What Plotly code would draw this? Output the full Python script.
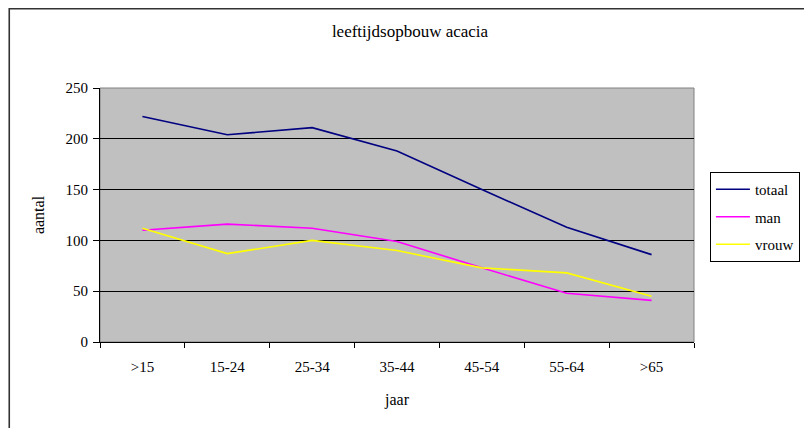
import plotly.graph_objects as go

categories = [">15", "15-24", "25-34", "35-44", "45-54", "55-64", ">65"]
totaal = [222, 204, 211, 188, 150, 113, 86]
man = [110, 116, 112, 99, 73, 48, 41]
vrouw = [112, 87, 100, 90, 73, 68, 45]

FONT = "Liberation Serif"

# figure is placed at (8,8) in the page by the default body margin
W, H = 804, 420
L, T = 92, 80
PW, PH = 597, 254

fig = go.Figure()
fig.add_trace(go.Scatter(x=categories, y=totaal, mode="lines", name="totaal",
                         legendgroup="a",
                         line=dict(color="#000080", width=1.6)))
fig.add_trace(go.Scatter(x=categories, y=man, mode="lines", name="man",
                         legendgroup="b",
                         line=dict(color="#FF00FF", width=1.6)))
fig.add_trace(go.Scatter(x=categories, y=vrouw, mode="lines", name="vrouw",
                         legendgroup="c",
                         line=dict(color="#FFFF00", width=1.6)))

fig.update_layout(
    width=W, height=H,
    margin=dict(l=L, r=W - L - PW, t=T, b=H - T - PH),
    paper_bgcolor="white",
    plot_bgcolor="#C0C0C0",
    font=dict(family=FONT, size=15, color="black"),
    title=dict(text="leeftijdsopbouw acacia", x=0.5, xanchor="center",
               y=1 - 23 / H, yanchor="middle",
               font=dict(family=FONT, size=17, color="black")),
    showlegend=True,
    legend=dict(x=(705 - L) / PW, y=(T + PH - 164) / PH,
                xanchor="left", yanchor="top",
                bordercolor="black", borderwidth=1, bgcolor="white",
                font=dict(family=FONT, size=15), tracegroupgap=5,
                itemwidth=34),
    xaxis=dict(type="category", range=[-0.5, 6.5], showgrid=False,
               showline=True, linecolor="black", linewidth=1,
               ticks="outside", tickson="boundaries", ticklen=5,
               tickcolor="black", ticklabelstandoff=11,
               title=dict(text="jaar", standoff=19,
                          font=dict(family=FONT, size=16)),
               tickfont=dict(family=FONT, size=15), zeroline=False),
    yaxis=dict(range=[0, 250], dtick=50, showgrid=True, gridcolor="black",
               gridwidth=1, showline=True, linecolor="black", linewidth=1,
               ticks="outside", ticklen=6, tickcolor="black",
               ticklabelstandoff=2,
               title=dict(text="aantal", standoff=16,
                          font=dict(family=FONT, size=16)),
               tickfont=dict(family=FONT, size=15), zeroline=False),
)

# plot-area border (gray) and outer chart frame (dark, clipped at bottom)
fig.add_shape(type="rect", xref="paper", yref="paper", x0=0, x1=1, y0=0, y1=1,
              line=dict(color="#808080", width=1), layer="below")
fig.add_shape(type="rect", xref="paper", yref="paper",
              x0=(0.8 - L) / PW, x1=(803 - L) / PW,
              y0=(T + PH - H - 20) / PH, y1=(T + PH - 0.8) / PH,
              line=dict(color="#333333", width=1.6), layer="below")

fig.write_html("out.html")
